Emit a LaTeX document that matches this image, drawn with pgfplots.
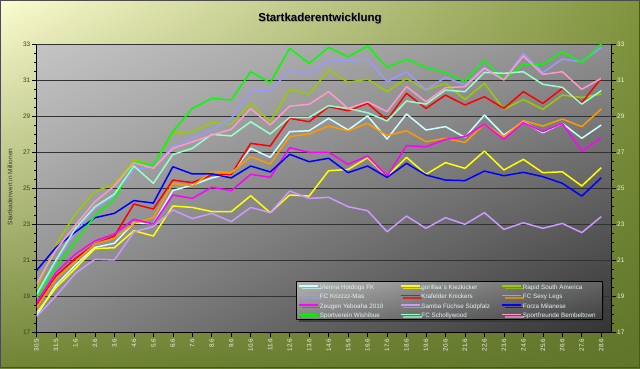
\documentclass[border=0pt]{standalone}
\usepackage{pgfplots}
\pgfplotsset{compat=1.18}
\usepackage{pgfplotstable}
\usepackage{fontspec}
\setmainfont{Liberation Sans}
\usetikzlibrary{shadings,shadows}

\definecolor{cVienna}{HTML}{CCFFFF}
\definecolor{cGorilla}{HTML}{FFFF00}
\definecolor{cRapid}{HTML}{99CC00}
\definecolor{cKrizz}{HTML}{9999FF}
\definecolor{cKraf}{HTML}{FF0000}
\definecolor{cSexy}{HTML}{FF9900}
\definecolor{cZeugen}{HTML}{FF00FF}
\definecolor{cSamba}{HTML}{CC99FF}
\definecolor{cForza}{HTML}{0000FF}
\definecolor{cWishi}{HTML}{00FF00}
\definecolor{cScholly}{HTML}{99FFCC}
\definecolor{cBembel}{HTML}{FF99CC}

\definecolor{bgUL}{RGB}{252,252,208}
\definecolor{bgUR}{RGB}{128,148,62}
\definecolor{bgLL}{RGB}{112,132,52}
\definecolor{bgLR}{RGB}{96,116,42}
\definecolor{paUL}{RGB}{196,196,196}
\definecolor{paUR}{RGB}{142,142,142}
\definecolor{paLL}{RGB}{136,136,136}
\definecolor{paLR}{RGB}{52,52,52}
\definecolor{lgUL}{RGB}{180,180,180}
\definecolor{lgUR}{RGB}{100,100,100}
\definecolor{lgLL}{RGB}{130,130,130}
\definecolor{lgLR}{RGB}{65,65,65}
\definecolor{gridc}{RGB}{50,50,50}
\definecolor{leftlab}{RGB}{60,60,45}
\definecolor{rightlab}{RGB}{240,240,200}
\definecolor{xlab}{RGB}{235,242,225}
\definecolor{legtext}{RGB}{225,245,245}

\pgfplotstableread{
i vienna gorilla rapid krizz kraf sexy zeugen samba forza wishi scholly bembel
0 17.95 18.10 19.40 19.00 18.54 18.40 18.67 17.90 20.45 18.90 19.13 19.71
1 19.65 19.50 21.90 20.90 20.15 20.00 20.34 19.04 21.74 20.70 21.04 21.60
2 20.76 20.58 23.60 22.60 21.13 20.95 21.37 20.30 22.60 22.06 22.80 22.98
3 21.74 21.67 24.84 23.90 21.93 21.93 22.10 21.08 23.39 23.50 24.00 24.28
4 21.97 21.72 25.26 24.60 22.37 22.25 22.48 21.04 23.63 24.41 24.70 25.15
5 23.10 22.67 26.60 26.10 24.15 23.07 23.30 22.60 24.34 26.50 26.26 26.45
6 23.05 22.37 26.30 26.20 23.87 23.40 23.04 22.90 24.20 26.30 25.30 26.13
7 24.90 24.04 28.10 27.33 25.48 25.30 24.65 23.82 26.22 28.17 26.90 27.24
8 25.20 23.96 28.17 27.80 25.34 25.15 24.46 23.34 25.82 29.46 27.24 27.60
9 25.60 23.73 28.67 28.26 25.76 25.95 25.08 23.63 25.82 30.02 28.02 27.98
10 25.85 23.72 28.60 28.91 25.80 25.89 24.89 23.17 25.60 29.93 27.93 28.30
11 27.24 24.61 29.74 30.48 27.52 26.78 25.80 23.96 26.26 31.50 28.72 29.46
12 26.74 23.67 28.72 30.45 27.37 26.37 25.63 23.67 25.93 30.89 28.04 28.54
13 28.17 24.65 30.52 31.56 28.91 27.89 27.28 24.87 26.91 32.80 28.96 29.59
14 28.22 24.59 30.24 31.41 28.72 28.04 27.02 24.46 26.50 31.96 28.96 29.69
15 28.91 26.00 31.60 32.15 29.56 28.48 27.02 24.52 26.69 32.85 29.61 30.39
16 28.26 26.07 30.91 32.11 29.33 28.22 26.35 24.00 25.89 32.33 29.46 29.46
17 29.04 26.72 31.09 32.20 29.74 28.63 26.82 23.78 26.26 32.93 29.22 29.83
18 27.76 25.67 30.39 30.95 28.82 27.95 25.70 22.61 25.63 31.74 28.76 29.28
19 29.15 26.74 31.13 31.50 30.30 28.22 27.39 23.48 26.41 32.19 29.87 30.67
20 28.26 25.80 30.48 30.48 29.46 27.61 27.33 22.80 25.76 31.74 29.70 29.83
21 28.45 26.45 30.85 31.19 30.20 27.80 27.74 23.39 25.48 31.46 30.48 30.61
22 27.85 26.13 29.96 30.76 29.65 27.57 27.89 23.02 25.45 30.95 30.39 30.67
23 29.09 27.09 30.85 31.74 30.11 28.59 28.59 23.67 25.98 32.15 31.46 31.69
24 27.98 26.04 29.41 31.07 29.46 27.89 27.74 22.74 25.72 31.07 31.41 31.04
25 28.72 26.63 29.96 32.52 30.39 28.78 28.67 23.11 25.91 31.93 31.50 32.37
26 28.11 25.89 29.41 31.45 29.74 28.48 28.17 22.80 25.67 31.91 30.80 31.35
27 28.63 25.94 30.20 32.20 30.57 28.87 28.63 23.07 25.30 32.61 30.63 31.50
28 27.80 25.15 30.07 32.06 29.78 28.45 27.09 22.56 24.59 32.02 29.70 30.52
29 28.54 26.17 30.26 32.85 31.13 29.43 27.83 23.45 25.61 33.04 30.45 31.13
}\data

\begin{document}
\begin{tikzpicture}
\path[use as bounding box] (0,0) rectangle (640pt,368pt);
\shade[upper left=bgUL, upper right=bgUR, lower left=bgLL, lower right=bgLR] (0,0) rectangle (640pt,368pt);
\draw[black!70, line width=1pt] (0.5pt,0.5pt) rectangle (639.5pt,367.5pt);
\node[font=\bfseries\fontsize{11.5}{13}\selectfont, text=black!40, anchor=center] at (320.8pt,348.2pt) {Startkaderentwicklung};
\node[font=\bfseries\fontsize{11.5}{13}\selectfont, text=black, anchor=center] at (320pt,349pt) {Startkaderentwicklung};

\begin{axis}[
  at={(36.5pt,35.3pt)}, anchor=south west,
  scale only axis, width=574.5pt, height=288pt,
  xmin=0, xmax=29.5, ymin=17, ymax=33,
  axis background/.style={shade, upper left=paUL, upper right=paUR, lower left=paLL, lower right=paLR},
  axis x line*=bottom, axis y line*=left,
  axis line style={black, line width=0.8pt},
  tick align=outside,
  major tick length=4.5pt, minor tick length=2.5pt,
  tick style={black, line width=0.6pt},
  xtick={0,...,29},
  xticklabels={30.5,31.5,1.6,2.6,3.6,4.6,5.6,6.6,7.6,8.6,9.6,10.6,11.6,12.6,13.6,14.6,15.6,16.6,17.6,18.6,19.6,20.6,21.6,22.6,23.6,24.6,25.6,26.6,27.6,28.6},
  x tick label style={rotate=90, anchor=east, font=\fontsize{6.3}{7}\selectfont, text=xlab, inner sep=1.5pt},
  ytick={17,19,...,33},
  minor ytick={17.5,18,...,32.5},
  y tick label style={font=\fontsize{6.5}{7}\selectfont, text=leftlab, inner sep=1.5pt},
  /pgf/number format/assume math mode=true,
  ymajorgrids, major grid style={gridc, line width=0.9pt},
  ylabel={Startkaderwert in Millionen},
  ylabel style={at={(axis description cs:-0.046,0.506)}, anchor=center, font=\fontsize{6.5}{7}\selectfont, text=leftlab},
  legend columns=3,
  legend image code/.code={\draw[#1, line width=1.5pt] (0pt,0pt) -- (19pt,0pt);},
  legend style={at={(axis description cs:0.4517,0.1795)}, anchor=north west,
    draw=black, line width=0.8pt, fill=gray, shade, upper left=lgUL, upper right=lgUR, lower left=lgLL, lower right=lgLR,
    drop shadow={shadow xshift=2.5pt, shadow yshift=-2.5pt, fill=black!80, opacity=0.7},
    font=\fontsize{6.3}{11.4}\selectfont, text=legtext,
    inner xsep=2pt, inner ysep=0pt,
    nodes={inner xsep=1pt, inner ysep=0pt},
    /tikz/every even column/.append style={column sep=3pt}},
  legend cell align=left,
  every axis plot/.append style={line width=1.5pt, line join=round},
]
\addplot[cVienna] table[x=i, y=vienna] {\data};
\addlegendentry{\makebox[76pt][l]{\strut Vienna Hotdogs FK}}
\addplot[cGorilla] table[x=i, y=gorilla] {\data};
\addlegendentry{\makebox[76pt][l]{\strut gorillaa´s Kiezkicker}}
\addplot[cRapid] table[x=i, y=rapid] {\data};
\addlegendentry{\makebox[76pt][l]{\strut Rapid South America}}
\addplot[cKrizz] table[x=i, y=krizz] {\data};
\addlegendentry{\makebox[76pt][l]{\strut FC Krizzzz-Mas}}
\addplot[cKraf] table[x=i, y=kraf] {\data};
\addlegendentry{\makebox[76pt][l]{\strut Krafelder Knickers}}
\addplot[cSexy] table[x=i, y=sexy] {\data};
\addlegendentry{\makebox[76pt][l]{\strut FC Sexy Legs}}
\addplot[cZeugen] table[x=i, y=zeugen] {\data};
\addlegendentry{\makebox[76pt][l]{\strut Zeugen Yeboaha 2010}}
\addplot[cSamba] table[x=i, y=samba] {\data};
\addlegendentry{\makebox[76pt][l]{\strut Samba Füchse Südpfalz}}
\addplot[cForza] table[x=i, y=forza] {\data};
\addlegendentry{\makebox[76pt][l]{\strut Forza Milanese}}
\addplot[cWishi] table[x=i, y=wishi] {\data};
\addlegendentry{\makebox[76pt][l]{\strut Sportverein Wishibue}}
\addplot[cScholly] table[x=i, y=scholly] {\data};
\addlegendentry{\makebox[76pt][l]{\strut FC Schollywood}}
\addplot[cBembel] table[x=i, y=bembel] {\data};
\addlegendentry{\makebox[76pt][l]{\strut Sportfreunde Bembeltown}}
\end{axis}

\begin{axis}[
  at={(36.5pt,35.3pt)}, anchor=south west,
  scale only axis, width=574.5pt, height=288pt,
  xmin=0, xmax=29.5, ymin=17, ymax=33,
  axis x line=none, axis y line*=right,
  axis line style={black, line width=0.8pt},
  tick align=outside,
  major tick length=4.5pt, minor tick length=2.5pt,
  tick style={black, line width=0.6pt},
  ytick={17,19,...,33},
  minor ytick={17.5,18,...,32.5},
  y tick label style={font=\fontsize{6.5}{7}\selectfont, text=rightlab, inner sep=1.5pt},
  /pgf/number format/assume math mode=true,
]
\end{axis}
\end{tikzpicture}
\end{document}
